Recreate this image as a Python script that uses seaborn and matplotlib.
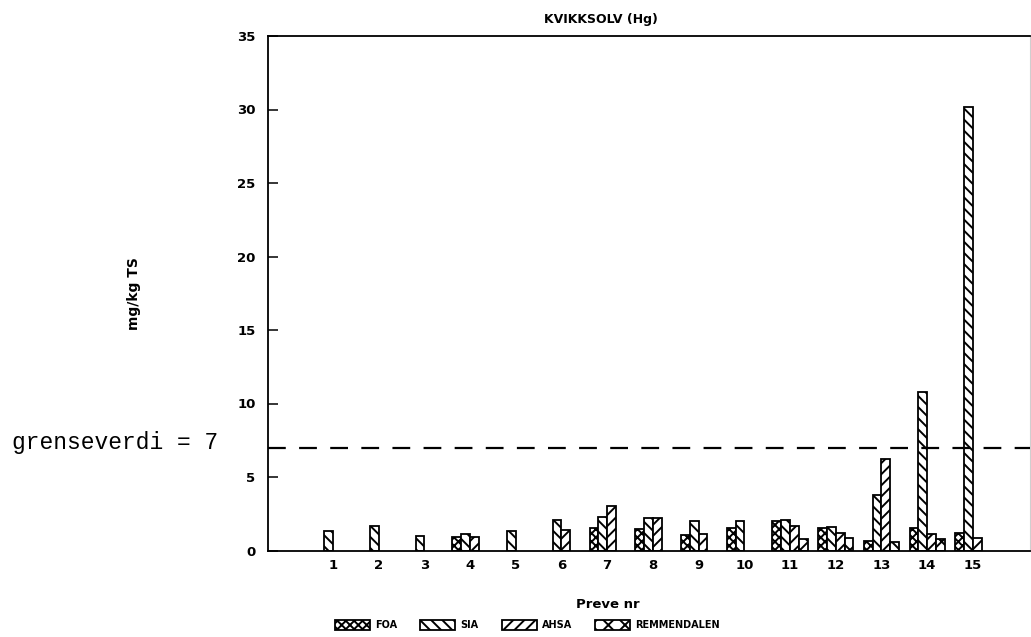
import numpy as np
import pandas as pd
import matplotlib
matplotlib.use("Agg")
import matplotlib.pyplot as plt
from matplotlib.patches import Patch
import seaborn as sns

# Mercury (Hg) content per sample, mg/kg dry matter
samples = ["1", "2", "3", "4", "5", "6", "7", "8", "9", "10", "11", "12", "13", "14", "15"]
series = ["FOA", "SIA", "AHSA", "REMMENDALEN"]
nan = np.nan
foa = [nan, nan, nan, 0.9, nan, nan, 1.5, 1.45, 1.05, 1.5, 2.0, 1.5, 0.65, 1.55, 1.2]
sia = [1.35, 1.65, 1.0, 1.1, 1.35, 2.05, 2.25, 2.2, 2.0, 2.0, 2.05, 1.6, 3.75, 10.8, 30.2]
ahsa = [nan, nan, nan, 0.9, nan, 1.4, 3.0, 2.2, 1.1, nan, 1.65, 1.2, 6.2, 1.1, 0.85]
remmendalen = [nan, nan, nan, nan, nan, nan, nan, nan, nan, nan, 0.8, 0.85, 0.6, 0.75, nan]
limit_value = 7
y_ticks = [0, 5, 10, 15, 20, 25, 30, 35]

hatches = ["xxxx", "\\\\\\", "///", "xx"]

df = pd.DataFrame({
    "sample": samples * 4,
    "series": [s for s in series for _ in samples],
    "value": foa + sia + ahsa + remmendalen,
}).dropna()

sns.set_style("ticks")
plt.rcParams["font.family"] = ["DejaVu Sans"]
plt.rcParams["hatch.linewidth"] = 1.4
plt.rcParams["hatch.color"] = "black"
plt.rcParams["text.color"] = "black"
plt.rcParams["axes.labelcolor"] = "black"

fig = plt.figure(figsize=(10.31, 6.37), dpi=100)
ax = fig.add_axes([268 / 1031, 86.5 / 637, 762 / 1031, 514.5 / 637])

sns.barplot(data=df, x="sample", y="value", hue="series",
            order=samples, hue_order=series,
            palette=["white"] * 4, edgecolor="black", linewidth=1.3,
            width=0.77, dodge=True, legend=False, ax=ax)

for container, hatch in zip(ax.containers, hatches):
    for bar in container:
        bar.set_hatch(hatch)
        bar.set_edgecolor("black")

ax.axhline(limit_value, color="black", lw=1.6, linestyle=(0, (8, 6)), zorder=3)

ax.set_xlim(-1.42, 15.25)
ax.set_ylim(0, 35)
ax.set_yticks(y_ticks)
ax.tick_params(axis="y", direction="in", length=7, width=1.1, pad=9,
               labelsize=9.5, colors="black")
ax.tick_params(axis="x", length=0, pad=6, labelsize=9.5, colors="black")
for lab in ax.get_xticklabels() + ax.get_yticklabels():
    lab.set_fontweight("bold")

for side in ["left", "bottom", "top"]:
    ax.spines[side].set_linewidth(1.3)
    ax.spines[side].set_color("black")
ax.spines["right"].set_color("#cfcfcf")
ax.spines["right"].set_linewidth(0.8)

ax.set_title("KVIKKSOLV (Hg)", x=0.437, pad=9, fontsize=9, fontweight="bold",
             color="black")
ax.set_xlabel("Preve nr", fontsize=9.5, fontweight="bold")
ax.xaxis.set_label_coords((608 - 268) / 762, -48 / 514.5)
ax.set_ylabel("mg/kg TS", fontsize=10, fontweight="bold")
ax.yaxis.set_label_coords((141 - 268) / 762, 0.5)

fig.text(12 / 1031, 1 - 443 / 637, "grenseverdi = 7", family="Liberation Mono",
         fontsize=16.5, va="center", ha="left", color="black")

handles = [Patch(facecolor="white", edgecolor="black", hatch=h, linewidth=1.3, label=s)
           for s, h in zip(series, hatches)]
fig.legend(handles=handles, loc="center left", bbox_to_anchor=(335 / 1031, 12 / 637),
           ncol=4, frameon=False, prop={"size": 7, "weight": "bold"},
           handlelength=3.6, handleheight=1.35, handletextpad=0.5,
           columnspacing=2.4, borderpad=0, borderaxespad=0)

fig.savefig("out.png", dpi=100, facecolor="white")
